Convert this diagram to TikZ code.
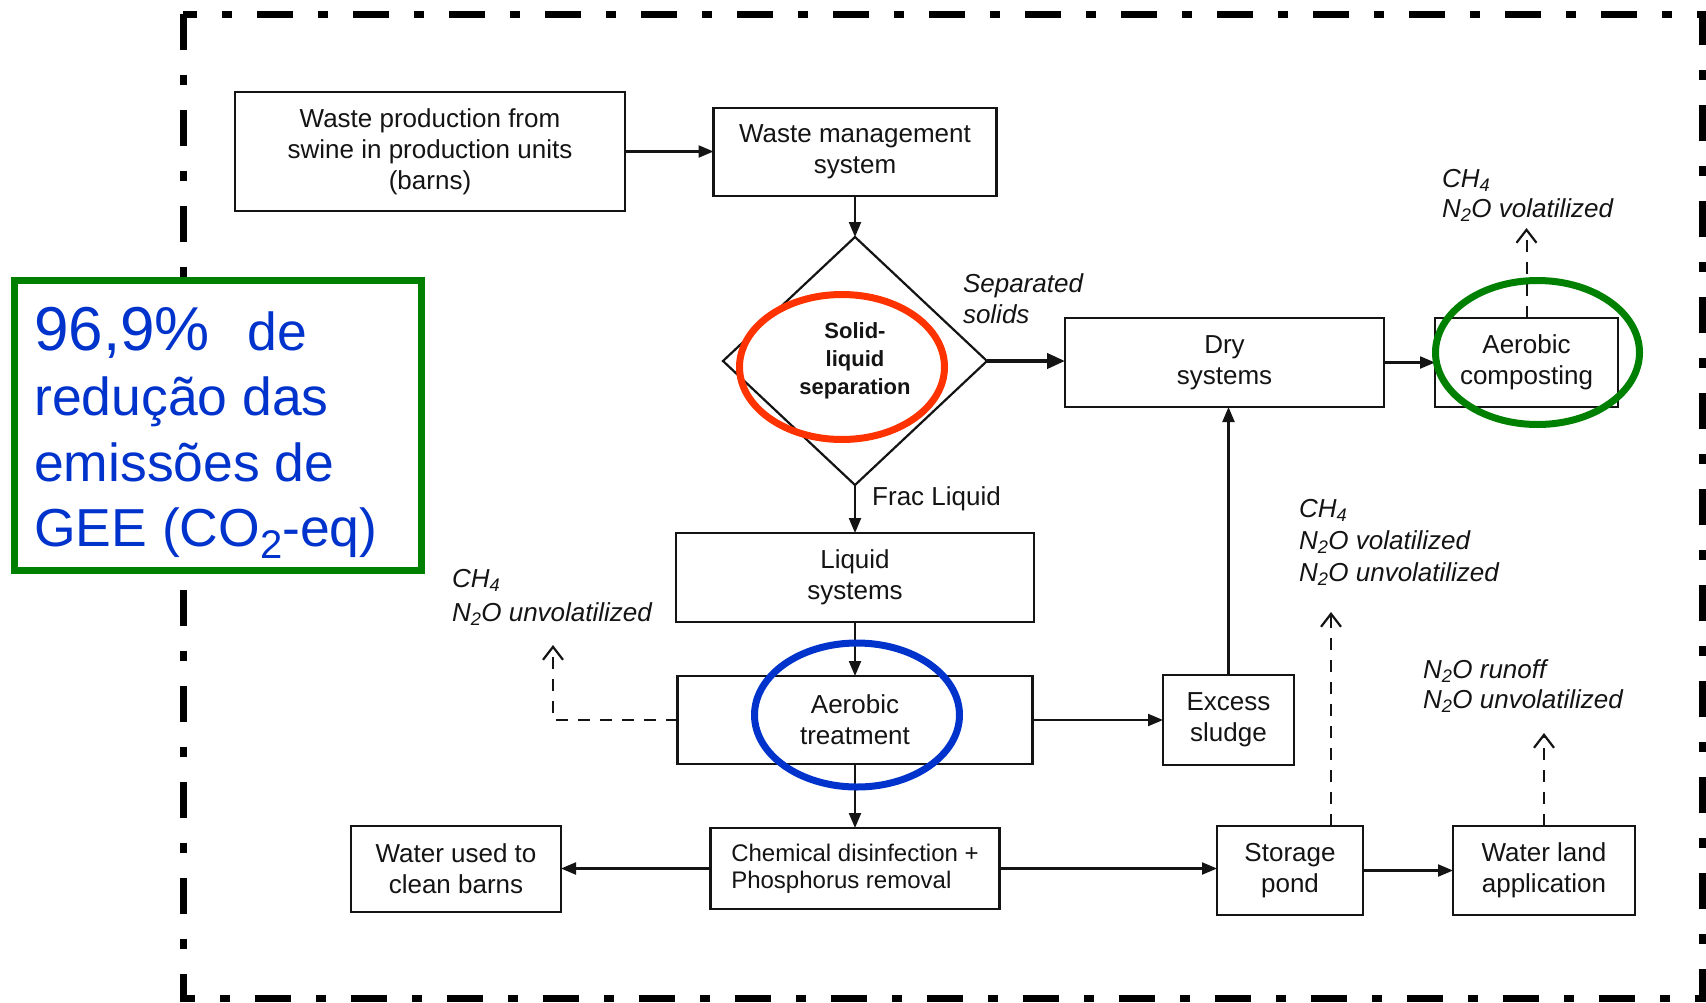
\documentclass[tikz,border=0pt]{standalone}
\usepackage{fontspec}
\setmainfont{Liberation Sans}
\usetikzlibrary{arrows.meta,shapes.geometric}
\definecolor{txt}{RGB}{20,20,20}
\definecolor{gebox}{RGB}{0,128,0}
\definecolor{blueT}{RGB}{0,51,204}
\definecolor{redC}{RGB}{255,51,0}
\begin{document}
\begin{tikzpicture}[x=1pt,y=-1pt,
  box/.style={draw=txt, line width=2.2pt, rectangle, inner sep=0pt, outer sep=0pt, align=center, text=txt, font=\fontsize{26}{31}\selectfont},
  lab/.style={inner sep=0pt, outer sep=0pt, align=left, text=txt, anchor=north west, font=\fontsize{26}{31}\selectfont\itshape},
  arr/.style={draw=txt, line width=2.2pt, -{Triangle[length=15pt,width=12pt]}},
  thickarr/.style={draw=txt, line width=4pt, -{Triangle[length=18pt,width=15pt]}},
  darr/.style={draw=txt, line width=2pt, dash pattern=on 12pt off 10pt, -{Straight Barb[length=13pt,width=20pt,line width=2.2pt]}},
  hl/.style={line width=7pt}
]
\useasboundingbox (0,0) rectangle (1706,1002);
\fill[white] (0,0) rectangle (1706,1002);
% dash-dot frame
\draw[line width=7pt, dash pattern=on 36pt off 25pt on 10pt off 25pt] (183,14) -- (183,998) -- (1702,998) -- (1702,14) -- cycle;

% boxes
\node[box, minimum width=390pt, minimum height=119pt] (b1) at (430,151.5) {Waste production from\\swine in production units\\(barns)};
\node[box, minimum width=283pt, minimum height=88pt] (b2) at (855,152) {Waste management\\system};
\node[draw=txt, line width=2.2pt, diamond, minimum width=264pt, minimum height=248pt, inner sep=0pt, outer sep=0pt, align=center, text=txt, font=\fontsize{22}{28}\selectfont\bfseries] (dia) at (855,361) {Solid-\\liquid\\separation};
\node[box, minimum width=319pt, minimum height=89pt] (dry) at (1224.5,362.5) {Dry\\systems};
\node[box, minimum width=183pt, minimum height=89pt] (ac) at (1526.5,362.5) {Aerobic\\composting};
\node[box, minimum width=358pt, minimum height=89pt] (liq) at (855,577.5) {Liquid\\systems};
\node[box, minimum width=355pt, minimum height=88pt] (atr) at (855,720) {Aerobic\\treatment};
\node[box, minimum width=131pt, minimum height=90pt] (sl) at (1228.5,720) {Excess\\sludge};
\node[box, minimum width=210pt, minimum height=86pt] (wu) at (456,869) {Water used to\\clean barns};
\node[box, minimum width=289pt, minimum height=81pt, align=left, font=\fontsize{24}{27}\selectfont] (ch) at (855,868.5) {Chemical disinfection +\\Phosphorus removal};
\node[box, minimum width=146pt, minimum height=89pt] (sp) at (1290,870.5) {Storage\\pond};
\node[box, minimum width=182pt, minimum height=89pt] (wl) at (1544,870.5) {Water land\\application};

% labels
\node[lab] (ls) at (963,274) {Separated\\solids};
\node[lab, font=\fontsize{26}{30}\selectfont\itshape] (l1) at (1442,169) {CH\textsubscript{4}\\N\textsubscript{2}O volatilized};
\node[lab, font=\fontsize{26}{34}\selectfont\itshape] (l2) at (452,569) {CH\textsubscript{4}\\N\textsubscript{2}O unvolatilized};
\node[lab, font=\fontsize{26}{32}\selectfont\itshape] (l3) at (1299,499) {CH\textsubscript{4}\\N\textsubscript{2}O volatilized\\N\textsubscript{2}O unvolatilized};
\node[lab, font=\fontsize{26}{30}\selectfont\itshape] (l4) at (1423,660) {N\textsubscript{2}O runoff\\N\textsubscript{2}O unvolatilized};
\node[anchor=base west, inner sep=0pt, text=txt, font=\fontsize{26}{31}\selectfont] (fl) at (872,505) {Frac Liquid};

% solid connectors
\draw[arr] (b1.east) -- (b1.east -| b2.west);
\draw[arr] (b2.south) -- (dia.north);
\draw[thickarr] (dia.east) -- (dia.east -| dry.west);
\draw[arr] (dry.east) -- (ac.west);
\draw[arr] (dia.south) -- (liq.north);
\draw[arr] (liq.south) -- (atr.north);
\draw[arr] (atr.south) -- (ch.north);
\draw[arr] (atr.east) -- (atr.east -| sl.west);
\draw[arr] (sl.north) -- (sl.north |- dry.south);
\draw[arr] (ch.west) -- (ch.west -| wu.east);
\draw[arr] (ch.east) -- (ch.east -| sp.west);
\draw[arr] (sp.east) -- (sp.east -| wl.west);

% dashed emission arrows
\coordinate (t1) at (1526.5,228);
\coordinate (t2) at (553,645);
\coordinate (t3) at (1331,612);
\coordinate (t4) at (1544,733);
\draw[darr] (ac.north) -- (t1);
\draw[darr] (atr.west) -| (t2);
\draw[darr] (sp.north -| t3) -- (t3);
\draw[darr] (wl.north) -- (t4);

% highlight ellipses
\draw[hl, redC] (842,367) ellipse [x radius=102.5, y radius=72.5];
\draw[hl, blueT] (857,715) ellipse [x radius=102.5, y radius=72];
\draw[hl, gebox] (1537.5,352.5) ellipse [x radius=102, y radius=72];

% green callout
\node[draw=gebox, line width=7pt, fill=white, minimum width=407pt, minimum height=290pt, inner sep=0pt] (gb) at (217.5,425) {};
\node[anchor=north west, inner sep=0pt, align=left, text=blueT, font=\fontsize{53.5}{65.5}\selectfont] (gt) at (34,307) {{\fontsize{62}{65}\selectfont 96,9\%}\hspace{38pt}de\\redução das\\emissões de\\GEE (CO{\fontsize{40}{40}\selectfont\raisebox{-12pt}{2}}-eq)};
\end{tikzpicture}
\end{document}
